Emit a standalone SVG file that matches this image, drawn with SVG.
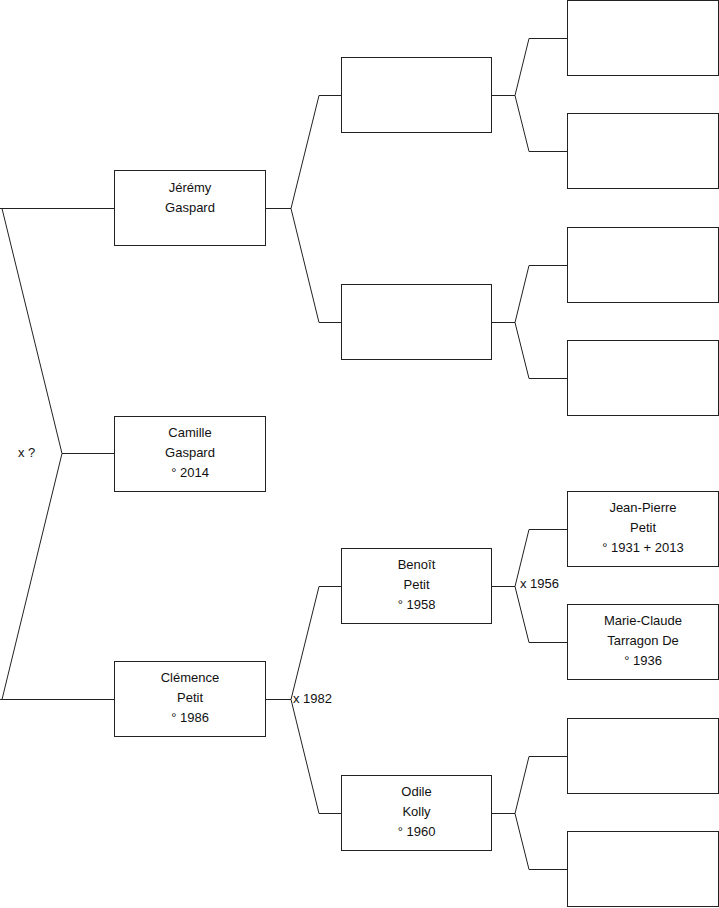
<svg xmlns="http://www.w3.org/2000/svg" width="719" height="908" viewBox="0 0 719 908">
<style>
.box{fill:#fff;stroke:#222;stroke-width:1}
.ln{fill:none;stroke:#222;stroke-width:1}
text{font-family:"Liberation Sans",Arial,sans-serif;font-size:13px;fill:#111}
.c{text-anchor:middle}
</style>
<rect width="719" height="908" fill="#fff"/>
<g id="connectors">
<path class="ln" d="M0,208.5H114M2,208.5L62,453.5L2,699.5M62,453.5H114M0,699.5H114"/>
<path class="ln" d="M265,208.5H291M341,95.5H319L291,208.5L319,322.5H341"/>
<path class="ln" d="M265,699.5H291M341,586.5H319L291,699.5L319,813.5H341"/>
<path class="ln" d="M492,95.5H515M567,38.5H529L515,95.5L529,151.5H567"/>
<path class="ln" d="M492,322.5H515M567,265.5H529L515,322.5L529,378.5H567"/>
<path class="ln" d="M492,586.5H515M567,529.5H529L515,586.5L529,642.5H567"/>
<path class="ln" d="M492,813.5H515M567,756.5H529L515,813.5L529,869.5H567"/>
<text x="18" y="457">x ?</text>
<text x="293" y="703">x 1982</text>
<text x="520" y="588">x 1956</text>
</g>
<g id="jeremy"><rect class="box" x="114.5" y="170.5" width="151" height="75"/><text class="c" x="190" y="192">Jérémy</text><text class="c" x="190" y="212">Gaspard</text></g>
<g id="camille"><rect class="box" x="114.5" y="416.5" width="151" height="75"/><text class="c" x="190" y="437">Camille</text><text class="c" x="190" y="457">Gaspard</text><text class="c" x="190" y="477">° 2014</text></g>
<g id="clemence"><rect class="box" x="114.5" y="661.5" width="151" height="75"/><text class="c" x="190" y="682">Clémence</text><text class="c" x="190" y="702">Petit</text><text class="c" x="190" y="722">° 1986</text></g>
<g id="g2a"><rect class="box" x="341.5" y="57.5" width="150" height="75"/></g>
<g id="g2b"><rect class="box" x="341.5" y="284.5" width="150" height="75"/></g>
<g id="benoit"><rect class="box" x="341.5" y="548.5" width="150" height="75"/><text class="c" x="416.5" y="569">Benoît</text><text class="c" x="416.5" y="589">Petit</text><text class="c" x="416.5" y="609">° 1958</text></g>
<g id="odile"><rect class="box" x="341.5" y="775.5" width="150" height="75"/><text class="c" x="416.5" y="796">Odile</text><text class="c" x="416.5" y="816">Kolly</text><text class="c" x="416.5" y="836">° 1960</text></g>
<g id="g3a"><rect class="box" x="567.5" y="0.5" width="151" height="75"/></g>
<g id="g3b"><rect class="box" x="567.5" y="113.5" width="151" height="75"/></g>
<g id="g3c"><rect class="box" x="567.5" y="227.5" width="151" height="75"/></g>
<g id="g3d"><rect class="box" x="567.5" y="340.5" width="151" height="75"/></g>
<g id="jeanpierre"><rect class="box" x="567.5" y="491.5" width="151" height="75"/><text class="c" x="643" y="512">Jean-Pierre</text><text class="c" x="643" y="532">Petit</text><text class="c" x="643" y="552">° 1931 + 2013</text></g>
<g id="marieclaude"><rect class="box" x="567.5" y="604.5" width="151" height="75"/><text class="c" x="643" y="625">Marie-Claude</text><text class="c" x="643" y="645">Tarragon De</text><text class="c" x="643" y="665">° 1936</text></g>
<g id="g3g"><rect class="box" x="567.5" y="718.5" width="151" height="75"/></g>
<g id="g3h"><rect class="box" x="567.5" y="831.5" width="151" height="75"/></g>
</svg>
